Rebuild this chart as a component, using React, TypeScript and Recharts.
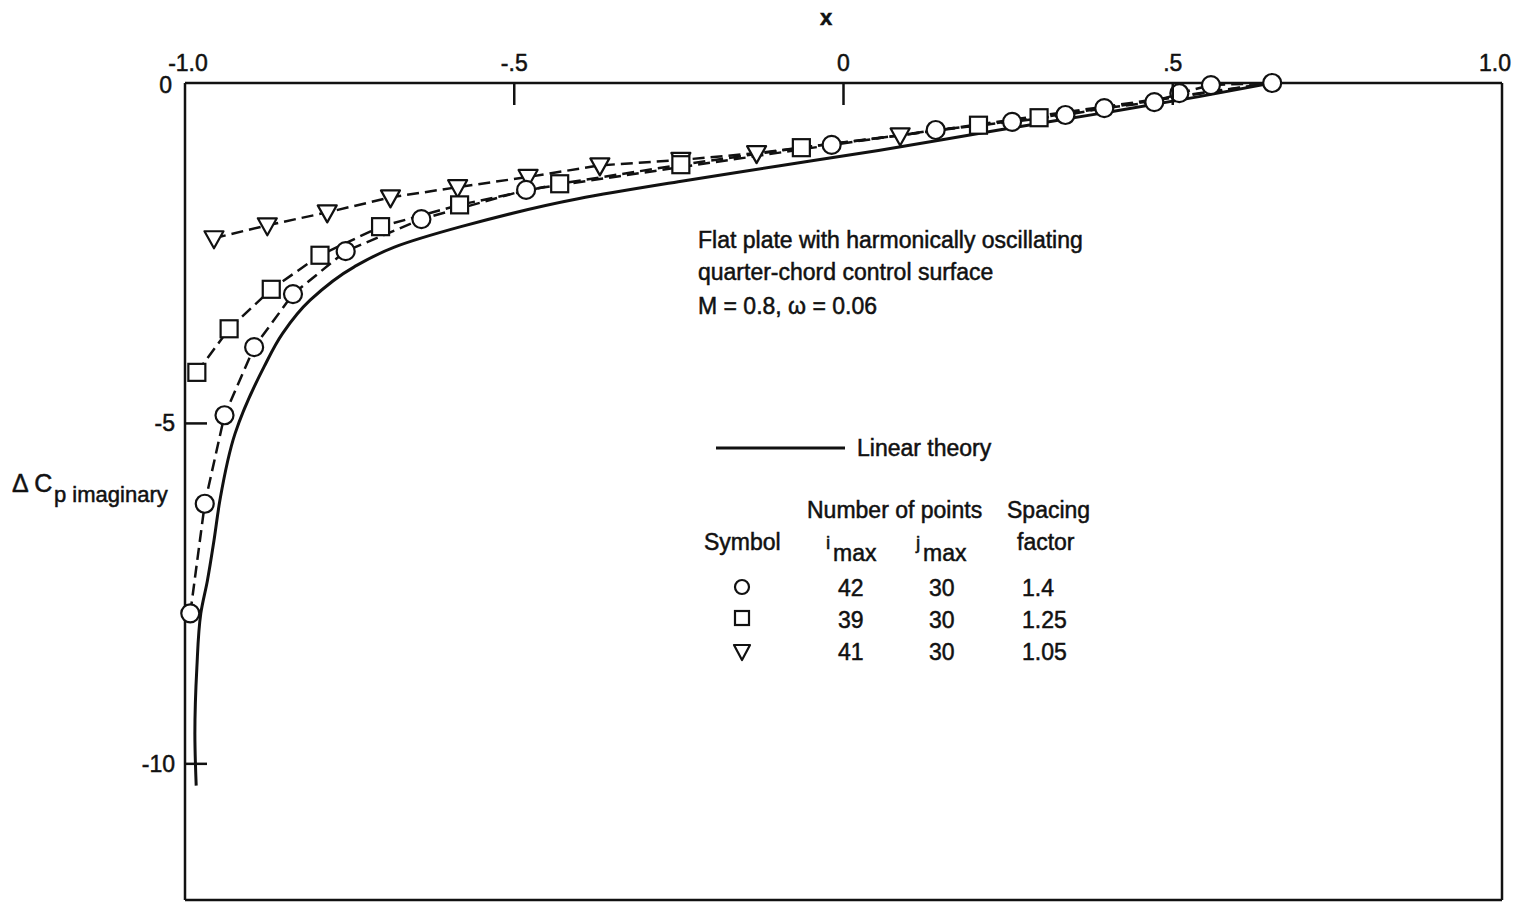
import React from 'react';
import { ComposedChart, Line, XAxis, YAxis, ReferenceLine } from 'recharts';

// axis ticks
const xTicks = [-1, -0.5, 0, 0.5, 1];
const xTickLabels = ['-1.0', '-.5', '0', '.5', '1.0'];
const yTicks = [0, -5, -10];
const yTickLabels = ['0', '-5', '-10'];

// linear theory (solid curve)
const theoryX = [-0.983, -0.985, -0.982, -0.976, -0.966, -0.956, -0.947, -0.924, -0.88, -0.852, -0.81, -0.743, -0.682, -0.581, -0.403, -0.251, -0.099, 0.053, 0.236, 0.388, 0.54, 0.651];
const theoryY = [-10.32, -9.56, -8.59, -7.79, -7.31, -6.72, -6.13, -5.15, -4.17, -3.68, -3.19, -2.7, -2.41, -2.11, -1.7, -1.45, -1.22, -0.99, -0.69, -0.45, -0.2, 0];

// imax 42, spacing 1.4 (circles)
const circleX = [-0.992, -0.97, -0.94, -0.895, -0.836, -0.756, -0.641, -0.482, -0.018, 0.14, 0.256, 0.337, 0.396, 0.472, 0.51, 0.558, 0.651];
const circleY = [-7.79, -6.18, -4.88, -3.88, -3.1, -2.47, -2.0, -1.57, -0.91, -0.69, -0.57, -0.47, -0.37, -0.28, -0.15, -0.03, 0];

// imax 39, spacing 1.25 (squares) - last point is the shared end, no symbol
const squareX = [-0.982, -0.933, -0.869, -0.795, -0.703, -0.583, -0.431, -0.247, -0.064, 0.205, 0.297, 0.651];
const squareY = [-4.25, -3.61, -3.03, -2.53, -2.11, -1.79, -1.48, -1.2, -0.95, -0.62, -0.51, 0];

// imax 41, spacing 1.05 (triangles) - last point is the shared end, no symbol
const triangleX = [-0.956, -0.875, -0.784, -0.688, -0.586, -0.479, -0.37, -0.247, -0.132, 0.086, 0.651];
const triangleY = [-2.28, -2.09, -1.9, -1.68, -1.53, -1.38, -1.21, -1.13, -1.03, -0.77, 0];

const toRows = (xs: number[], ys: number[]) => xs.map((x, i) => ({ x, y: ys[i] }));
const theoryData = toRows(theoryX, theoryY);
const circleData = toRows(circleX, circleY);
const squareData = toRows(squareX, squareY);
const triangleData = toRows(triangleX, triangleY);

const FONT = '"Liberation Sans", Arial, sans-serif';
const INK = '#111';

const TopTick = (props: any) => {
  const { x, y, payload } = props;
  const i = xTicks.indexOf(payload.value);
  const inner = payload.value > -1 && payload.value < 1;
  const last = i === xTicks.length - 1;
  return (
    <g>
      {inner && <line x1={x} x2={x} y1={y} y2={y + 22} stroke={INK} strokeWidth={2.5} />}
      <text
        x={last ? x + 9 : i === 0 ? x + 3 : x}
        y={y - 12}
        textAnchor={last ? 'end' : 'middle'}
        fontSize={23}
        fontFamily={FONT}
        fill={INK}
        stroke={INK}
        strokeWidth={0.5}
      >
        {xTickLabels[i]}
      </text>
    </g>
  );
};

const LeftTick = (props: any) => {
  const { x, y, payload } = props;
  const i = yTicks.indexOf(payload.value);
  const inner = payload.value < 0;
  return (
    <g>
      {inner && <line x1={x} x2={x + 22} y1={y} y2={y} stroke={INK} strokeWidth={2.5} />}
      <text
        x={inner ? x - 10 : x - 13}
        y={inner ? y + 8 : y + 10}
        textAnchor="end"
        fontSize={23}
        fontFamily={FONT}
        fill={INK}
        stroke={INK}
        strokeWidth={0.5}
      >
        {yTickLabels[i]}
      </text>
    </g>
  );
};

const CircleDot = (p: any) => (
  <circle key={`c${p.index}`} cx={p.cx} cy={p.cy} r={9} fill="#fff" stroke={INK} strokeWidth={2.2} />
);

const makeSquareDot = (n: number) => (p: any) =>
  p.index === n - 1 ? <g key={`s${p.index}`} /> : (
    <rect key={`s${p.index}`} x={p.cx - 8.5} y={p.cy - 8.5} width={17} height={17} fill="#fff" stroke={INK} strokeWidth={2.2} />
  );

const makeTriangleDot = (n: number) => (p: any) =>
  p.index === n - 1 ? <g key={`t${p.index}`} /> : (
    <polygon
      key={`t${p.index}`}
      points={`${p.cx - 9.5},${p.cy - 7} ${p.cx + 9.5},${p.cy - 7} ${p.cx},${p.cy + 10}`}
      fill="#fff"
      stroke={INK}
      strokeWidth={2.2}
      strokeLinejoin="round"
    />
  );

const txt = { fontFamily: FONT, fill: INK, fontSize: 23, stroke: INK, strokeWidth: 0.5 } as const;

export default function App() {
  return (
    <div style={{ position: 'absolute', left: 0, top: 0, width: 1514, height: 902, background: '#fff' }}>
      <ComposedChart width={1514} height={902} margin={{ top: 82, right: 12, bottom: 2, left: 184 }}>
        <XAxis
          dataKey="x"
          type="number"
          orientation="top"
          domain={[-1, 1]}
          ticks={xTicks}
          interval={0}
          height={1}
          tickSize={0}
          tickMargin={0}
          tickLine={false}
          axisLine={{ stroke: INK, strokeWidth: 2.5 }}
          tick={<TopTick />}
        />
        <YAxis
          dataKey="y"
          type="number"
          domain={[-12, 0]}
          ticks={yTicks}
          interval={0}
          width={1}
          tickSize={0}
          tickMargin={0}
          tickLine={false}
          axisLine={{ stroke: INK, strokeWidth: 2.5 }}
          tick={<LeftTick />}
        />
        <ReferenceLine x={1} stroke={INK} strokeWidth={2.5} />
        <ReferenceLine y={-12} stroke={INK} strokeWidth={2.5} />
        <Line data={theoryData} dataKey="y" type="monotoneY" stroke={INK} strokeWidth={3} dot={false} isAnimationActive={false} />
        <Line data={triangleData} dataKey="y" type="linear" stroke={INK} strokeWidth={2.5} strokeDasharray="12 6" dot={makeTriangleDot(triangleData.length)} isAnimationActive={false} />
        <Line data={squareData} dataKey="y" type="linear" stroke={INK} strokeWidth={2.5} strokeDasharray="12 6" dot={makeSquareDot(squareData.length)} isAnimationActive={false} />
        <Line data={circleData} dataKey="y" type="linear" stroke={INK} strokeWidth={2.5} strokeDasharray="12 6" dot={CircleDot} isAnimationActive={false} />
      </ComposedChart>

      <svg width={1514} height={902} style={{ position: 'absolute', left: 0, top: 0, pointerEvents: 'none' }}>
        {/* axis titles */}
        <text x={826} y={25} textAnchor="middle" {...txt} fontSize={22} fontWeight="bold">x</text>
        <text x={12} y={492} {...txt} fontSize={25}>Δ C</text>
        <text x={54} y={502} {...txt} fontSize={22}>p imaginary</text>

        {/* case description */}
        <text x={698} y={248} {...txt}>Flat plate with harmonically oscillating</text>
        <text x={698} y={280} {...txt}>quarter-chord control surface</text>
        <text x={698} y={314} {...txt}>M  =  0.8, ω  =  0.06</text>

        {/* legend */}
        <line x1={716} x2={845} y1={448} y2={448} stroke={INK} strokeWidth={3} />
        <text x={857} y={456} {...txt}>Linear theory</text>

        <text x={807} y={518} {...txt}>Number of points</text>
        <text x={1007} y={518} {...txt}>Spacing</text>
        <text x={704} y={550} {...txt}>Symbol</text>
        <text x={826} y={549} {...txt} fontSize={19}>i</text>
        <text x={833} y={561} {...txt}>max</text>
        <text x={916} y={549} {...txt} fontSize={19}>j</text>
        <text x={923} y={561} {...txt}>max</text>
        <text x={1017} y={550} {...txt}>factor</text>

        <circle cx={742} cy={587} r={7} fill="#fff" stroke={INK} strokeWidth={2.2} />
        <rect x={735} y={611} width={14} height={14} fill="#fff" stroke={INK} strokeWidth={2.2} />
        <polygon points="734,645 750,645 742,660" fill="#fff" stroke={INK} strokeWidth={2.2} strokeLinejoin="round" />

        <text x={838} y={596} {...txt}>42</text>
        <text x={929} y={596} {...txt}>30</text>
        <text x={1022} y={596} {...txt}>1.4</text>
        <text x={838} y={628} {...txt}>39</text>
        <text x={929} y={628} {...txt}>30</text>
        <text x={1022} y={628} {...txt}>1.25</text>
        <text x={838} y={660} {...txt}>41</text>
        <text x={929} y={660} {...txt}>30</text>
        <text x={1022} y={660} {...txt}>1.05</text>
      </svg>
    </div>
  );
}
